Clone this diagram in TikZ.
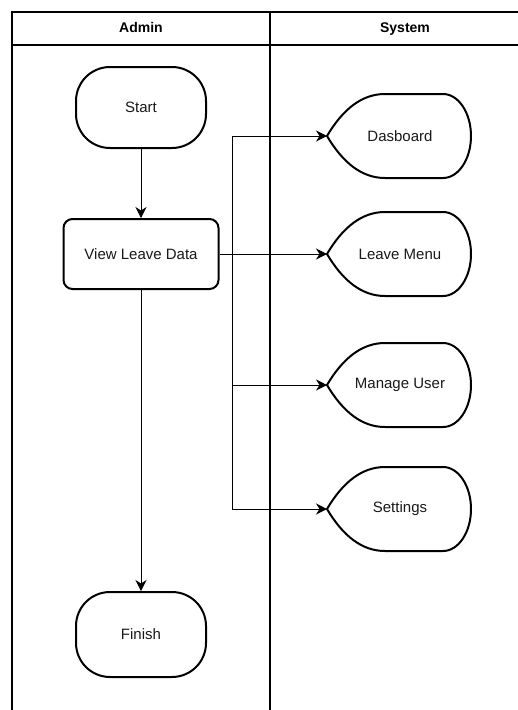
\documentclass[tikz,border=0pt]{standalone}
\usepackage{fontspec}
\setmainfont{Liberation Sans}
\usetikzlibrary{arrows.meta}
\tikzset{
  frame/.style={line width=1.3pt, draw=black},
  shapeline/.style={line width=2pt, draw=black, fill=white},
  txt/.style={font=\fontsize{15}{18}\selectfont, text=black!90, inner sep=0pt},
  hdr/.style={font=\fontsize{14}{16}\selectfont\bfseries, text=black, inner sep=0pt, text height=10pt, text depth=3pt},
  term/.style={shapeline, rounded corners=34pt, minimum width=130pt, font=\fontsize{15}{18}\selectfont, text=black!90, inner sep=0pt},
  proc/.style={shapeline, rounded corners=9pt, minimum width=155pt, minimum height=70pt, font=\fontsize{15}{18}\selectfont, text=black!90, inner sep=0pt},
  conn/.style={line width=1pt, draw=black, -{Stealth[length=11pt,width=11pt,inset=3.5pt]}}
}
\newcommand{\DispNode}[3]{%
  \draw[shapeline] (327,#2) .. controls (343,#2-27) and (362,#2-42) .. (385,#2-42) -- (443,#2-42)
    arc[start angle=90,end angle=-90,x radius=28pt,y radius=42pt]
    -- (385,#2+42) .. controls (362,#2+42) and (343,#2+27) .. (327,#2) -- cycle;
  \coordinate (#1-tip) at (327,#2);
  \node[txt] (#1) at (400,#2) {#3};
}
\begin{document}
\begin{tikzpicture}[x=1pt,y=-1pt]
\useasboundingbox (0,0) rectangle (518,710);
\fill[white] (0,0) rectangle (518,710);
% swimlane frame
\draw[frame] (12,712) -- (12,12) -- (520,12);
\draw[frame] (12,45) -- (520,45);
\draw[frame] (270,12) -- (270,712);
\node[hdr] (hadmin) at (141,28.5) {Admin};
\node[hdr] (hsystem) at (405,28.5) {System};
% admin lane
\node[term, minimum height=81pt] (start) at (141,107.5) {Start};
\node[proc] (view) at (141,254) {View Leave Data};
\node[term, minimum height=85pt] (finish) at (141,634.5) {Finish};
% system lane
\DispNode{dash}{136}{Dasboard}
\DispNode{leave}{254}{Leave Menu}
\DispNode{manage}{385}{Manage User}
\DispNode{settings}{509}{Settings}
% connectors
\coordinate (j) at (232,254);
\draw[conn] (start) -- (view);
\draw[conn] (view) -- (finish);
\draw[conn] (view.east) -- (leave-tip);
\draw[conn] (j) |- (dash-tip);
\draw[conn] (j) |- (manage-tip);
\draw[conn] (j) |- (settings-tip);
\end{tikzpicture}
\end{document}
